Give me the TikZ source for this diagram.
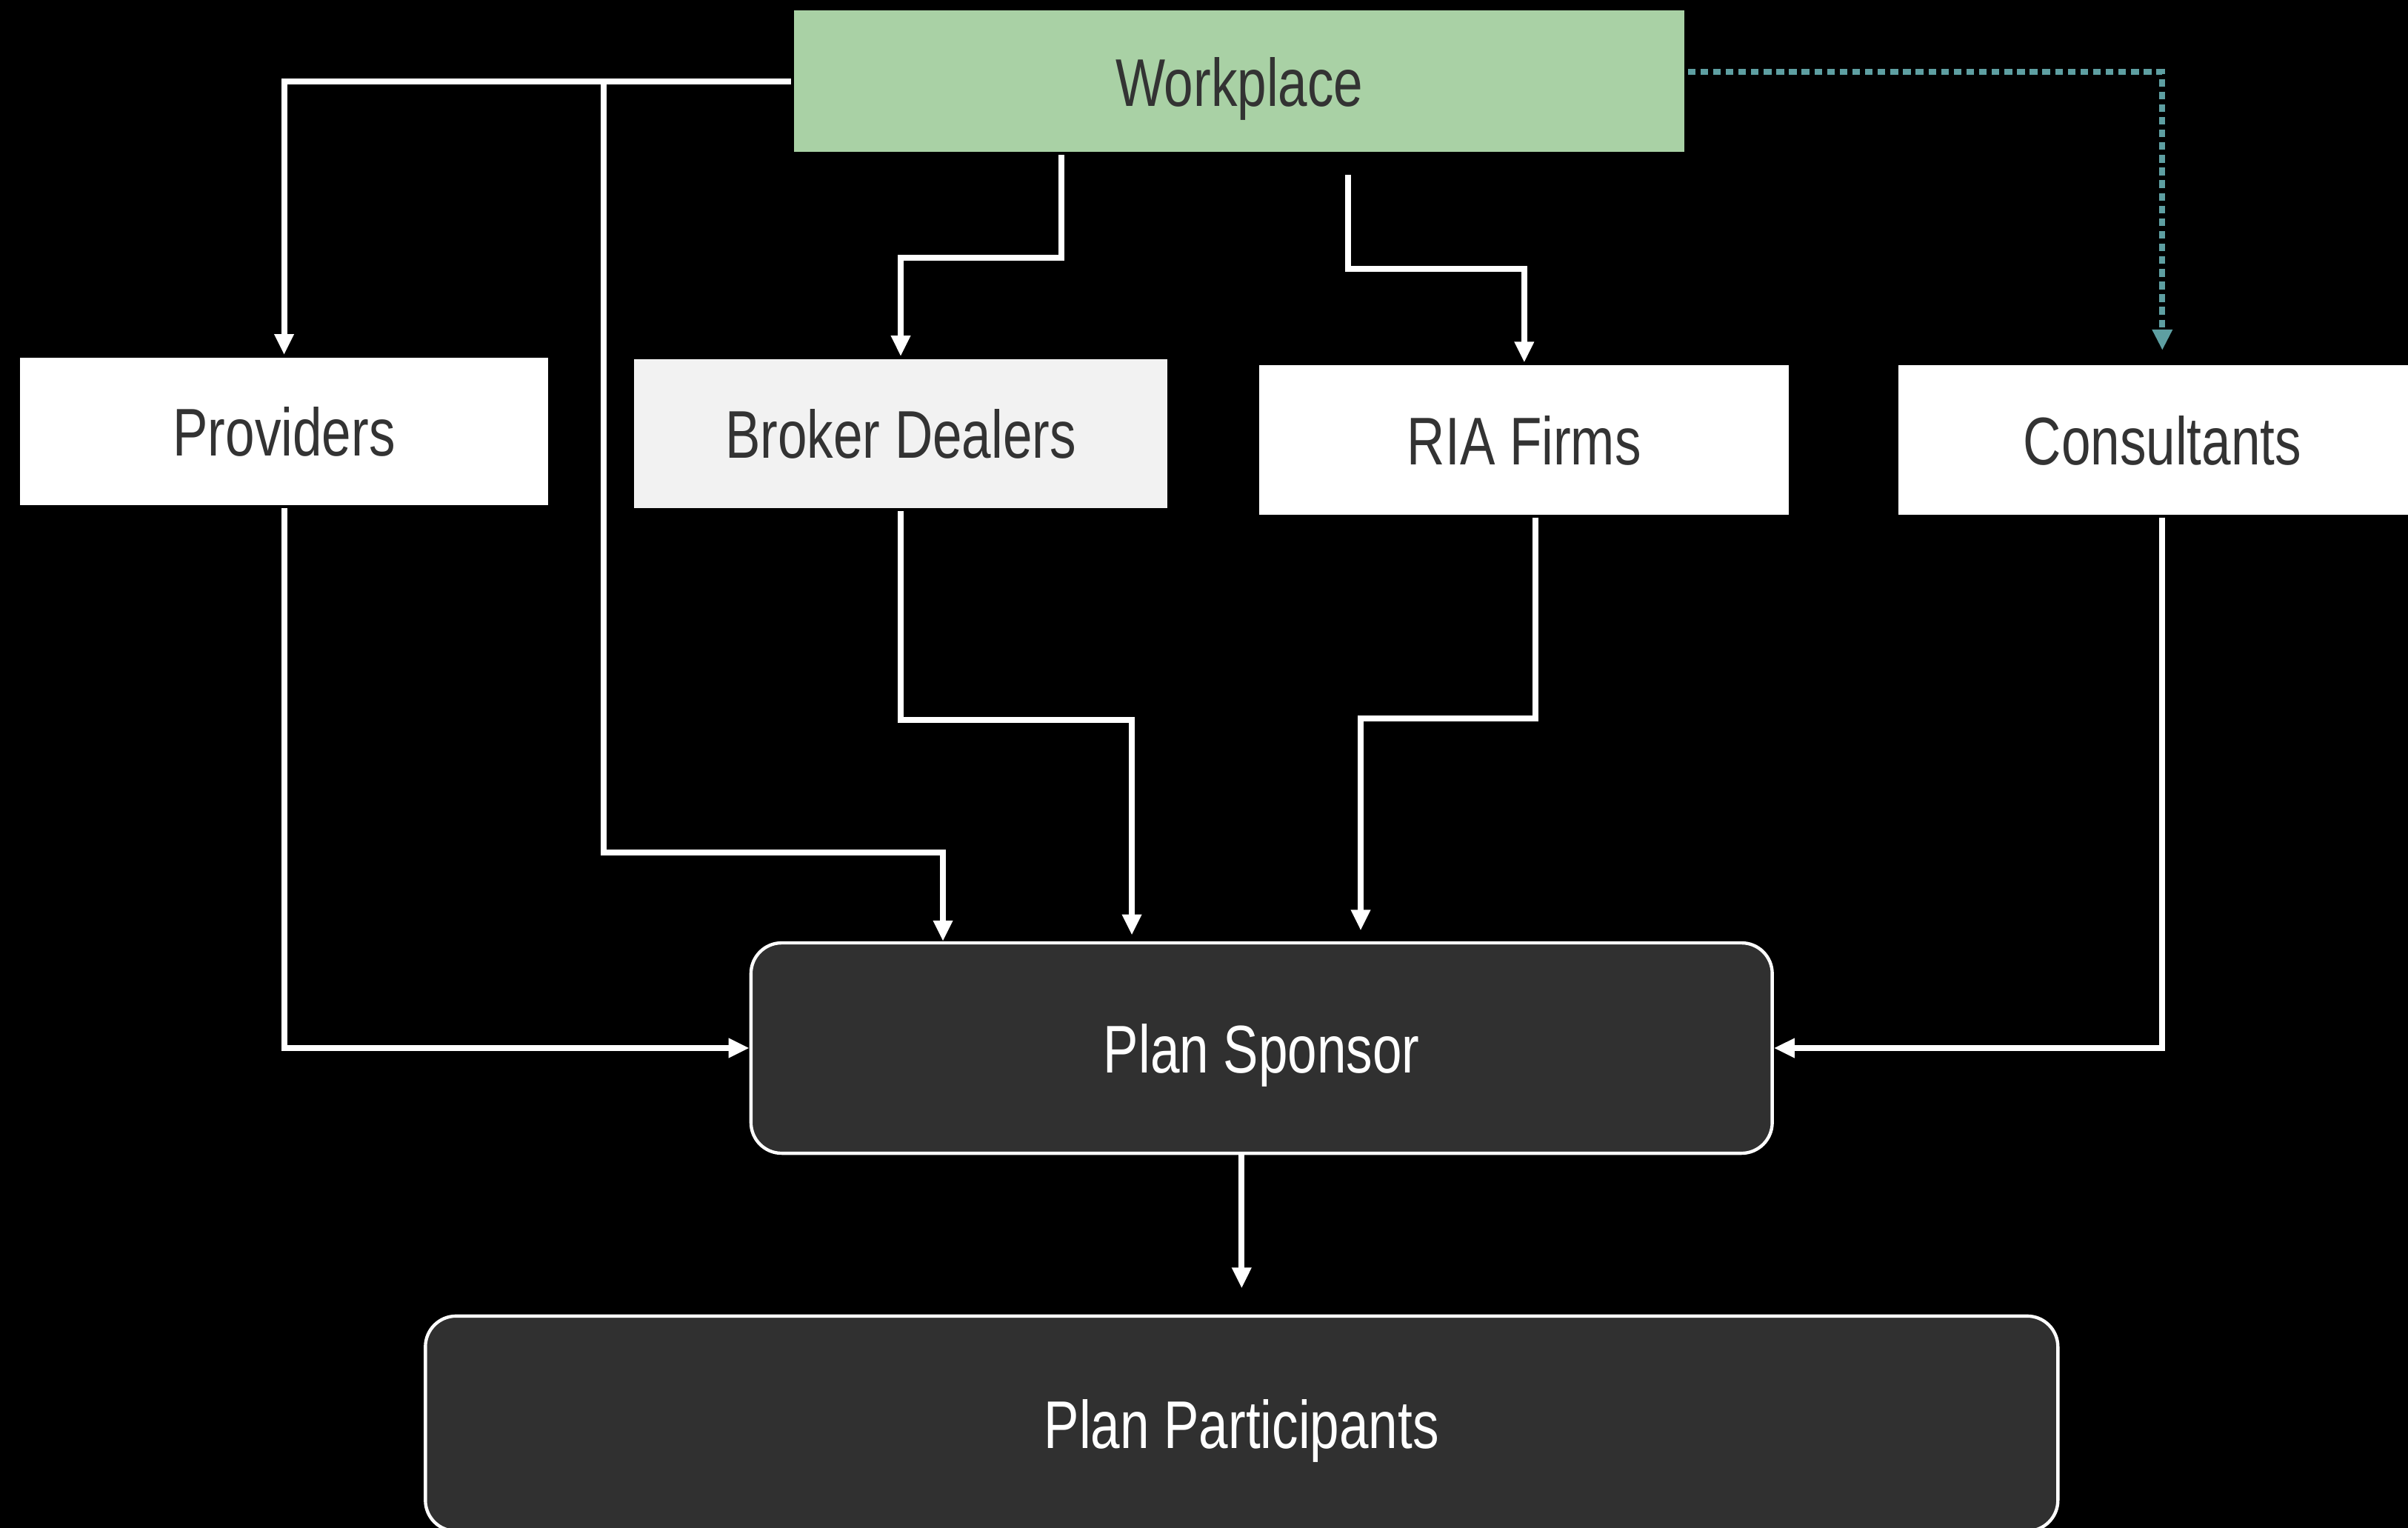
\documentclass[tikz,border=0pt]{standalone}
\usepackage{fontspec}
\setmainfont[FakeStretch=0.78]{Liberation Sans}
\usetikzlibrary{arrows.meta}
\definecolor{cgreen}{HTML}{A9D1A5}
\definecolor{cteal}{HTML}{5E9FA2}
\definecolor{cdark}{HTML}{303030}
\definecolor{cink}{HTML}{333333}
\definecolor{clight}{HTML}{F2F2F2}
\tikzset{
  every picture/.style={font=\fontsize{25}{30}\selectfont, line width=2.2pt},
  box/.style={fill=#1, text=cink, align=center, inner sep=0pt, text height=0.64cm, text depth=0cm, minimum width=6.9cm, minimum height=1.94cm},
  box/.default=white,
  plan/.style={draw=white, fill=cdark, text=white, rounded corners=0.4cm, line width=1.2pt, inner sep=0pt, text height=0.64cm, text depth=0cm, minimum height=2.74cm},
  arrow/.style={-{Triangle[length=2.7mm, width=2.4mm]}, draw=white, line width=2.2pt},
  dotarrow/.style={-{Triangle[length=2.7mm, width=2.5mm]}, draw=cteal, line width=2.2pt, dash pattern=on 1mm off 0.65mm},
}
\begin{document}
\begin{tikzpicture}
  \fill[black] (0,0) rectangle (31.36,19.90);
  \useasboundingbox (0,0) rectangle (31.36,19.90);
  \node[box=cgreen, minimum width=11.6cm, minimum height=1.84cm] (wp) at (16.14,18.84) {Workplace};
  \node[box, minimum width=6.88cm, minimum height=1.92cm] (prov) at (3.70,14.28) {Providers};
  \node[box=clight, minimum width=6.94cm] (bd) at (11.73,14.25) {Broker Dealers};
  \node[box] (ria) at (19.85,14.17) {RIA Firms};
  \node[box, minimum width=6.88cm] (con) at (28.16,14.17) {Consultants};
  \node[plan, minimum width=13.3cm] (ps) at (16.43,6.25) {Plan Sponsor};
  \node[plan, minimum width=21.26cm, minimum height=2.8cm] (pp) at (16.17,1.36) {Plan Participants};

  \coordinate (split) at (7.86,18.84);
  \coordinate (jA) at (12.28,8.80);
  \coordinate (jB) at (13.82,16.54);
  \coordinate (wpC) at (17.56,17.62);
  \coordinate (jC) at (17.56,16.40);
  \coordinate (jD) at (14.74,10.52);
  \coordinate (jE) at (17.72,10.54);

  \draw[arrow] (wp.west) -| (prov.north);
  \draw[arrow] (split) |- (jA) -- (jA |- ps.north);
  \draw[arrow] (jB |- wp.south) -- (jB) -| (bd.north);
  \draw[arrow] (wpC) -- (jC) -| (ria.north);
  \draw[dotarrow, shorten >=1.6mm] ([yshift=1.2mm]wp.east) -| (con.north);
  \draw[arrow] (prov.south) |- (ps.west);
  \draw[arrow, shorten >=0.8mm] (bd.south) |- (jD) -- (jD |- ps.north);
  \draw[arrow, shorten >=1.4mm] ([xshift=1.5mm]ria.south) |- (jE) -- (jE |- ps.north);
  \draw[arrow] (con.south) |- (ps.east);
  \draw[arrow, shorten >=3.4mm] (pp.north |- ps.south) -- (pp.north);
\end{tikzpicture}
\end{document}
